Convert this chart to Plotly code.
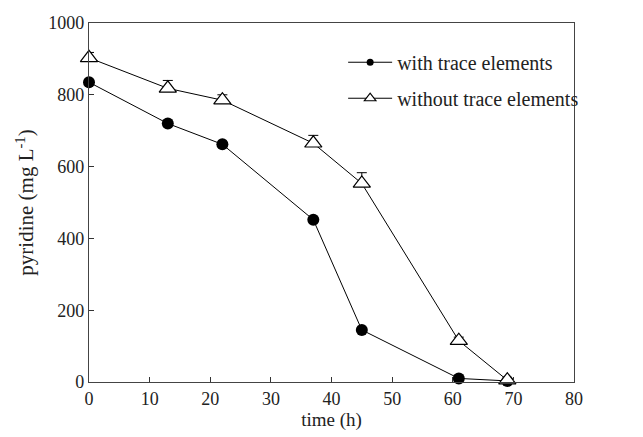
import plotly.graph_objects as go

time_with = [0, 13, 22, 37, 45, 61, 69]
pyr_with = [835, 720, 662, 452, 145, 10, 3]
time_without = [0, 13, 22, 37, 45, 61, 69]
pyr_without = [903, 818, 785, 665, 553, 115, 5]
err_without = [15, 22, 15, 22, 30, 10, 3]
series_names = ["with trace elements", "without trace elements"]

font = "Liberation Serif"
line = dict(color="black", width=1)
fig = go.Figure()
fig.add_trace(go.Scatter(
    x=time_with, y=pyr_with, mode="lines+markers", showlegend=False,
    line=line, cliponaxis=False,
    marker=dict(symbol="circle", size=12, color="black"),
))
fig.add_trace(go.Scatter(
    x=time_without, y=pyr_without, mode="lines+markers", showlegend=False,
    line=line, cliponaxis=False,
    marker=dict(symbol="triangle-up", size=15, color="white", line=dict(color="black", width=1.2)),
    error_y=dict(type="data", array=err_without, arrayminus=[0]*len(err_without),
                 color="black", thickness=1, width=5),
))
# legend entries with small markers
fig.add_trace(go.Scatter(
    x=[None], y=[None], mode="lines+markers", name=series_names[0], legendgroup="a",
    line=line, marker=dict(symbol="circle", size=7, color="black"),
))
fig.add_trace(go.Scatter(
    x=[None], y=[None], mode="lines+markers", name=series_names[1], legendgroup="b",
    line=line, marker=dict(symbol="triangle-up", size=10, color="white", line=dict(color="black", width=1.2)),
))
fig.update_layout(
    width=643, height=437,
    margin=dict(l=89, r=69, t=23, b=55),
    paper_bgcolor="white", plot_bgcolor="white",
    font=dict(family=font, size=18, color="#222"),
    legend=dict(x=0.524, y=0.945, xanchor="left", yanchor="top",
                bgcolor="rgba(0,0,0,0)", font=dict(family=font, size=20), tracegroupgap=7,
                itemwidth=44),
    xaxis=dict(range=[0, 80], dtick=10, ticks="inside", ticklen=5, tickcolor="#333",
               showline=True, linecolor="#444", linewidth=1.2, mirror=True,
               showgrid=False, zeroline=False, tickfont=dict(family=font, size=18),
               title=dict(text="time (h)", standoff=4, font=dict(family=font, size=19))),
    yaxis=dict(range=[0, 1000], dtick=200, ticks="inside", ticklen=5, tickcolor="#333",
               showline=True, linecolor="#444", linewidth=1.2, mirror=True,
               showgrid=False, zeroline=False, tickfont=dict(family=font, size=18),
               title=dict(text="pyridine (mg L<sup>-1</sup>)", standoff=8, font=dict(family=font, size=21))),
)
fig.write_html("out.html")
